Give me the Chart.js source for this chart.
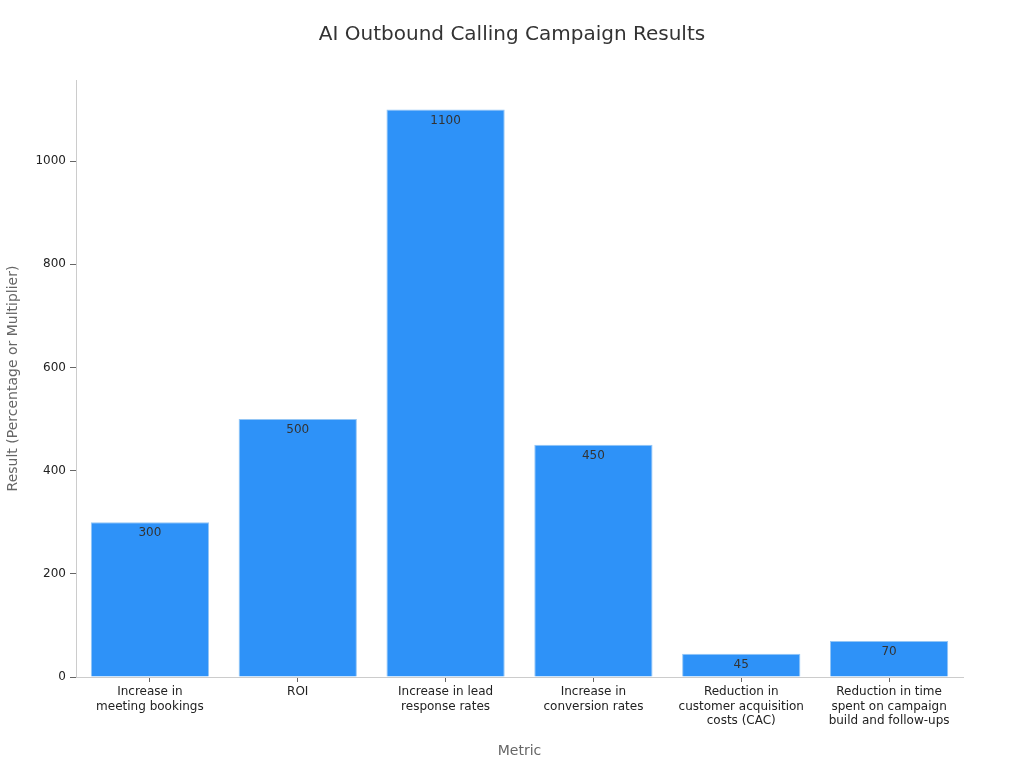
<!DOCTYPE html>
<html>
<head>
<meta charset="utf-8">
<script src="https://cdn.jsdelivr.net/npm/chart.js@4/dist/chart.umd.min.js"></script>
<style>
  html, body { margin: 0; padding: 0; background: #fff; }
  #wrap { width: 1024px; height: 768px; }
</style>
</head>
<body>
<div id="wrap"><canvas id="myChart" width="1024" height="768"></canvas></div>
<script>
let metrics = [
  ["Increase in", "meeting bookings"],
  ["ROI"],
  ["Increase in lead", "response rates"],
  ["Increase in", "conversion rates"],
  ["Reduction in", "customer acquisition", "costs (CAC)"],
  ["Reduction in time", "spent on campaign", "build and follow-ups"]
];
let results = [300, 500, 1100, 450, 45, 70];
let yTicks = [0, 200, 400, 600, 800, 1000];

Chart.defaults.font.family = "'DejaVu Sans', sans-serif";

// draws each value just inside the top of its bar
let barLabels = {
  id: 'barLabels',
  afterDatasetsDraw(chart) {
    let ctx = chart.ctx;
    let meta = chart.getDatasetMeta(0);
    ctx.save();
    ctx.font = "12px 'DejaVu Sans', sans-serif";
    ctx.fillStyle = '#333';
    ctx.textAlign = 'center';
    ctx.textBaseline = 'top';
    meta.data.forEach(function(bar, i) {
      ctx.fillText(String(results[i]), bar.x, bar.y + 5);
    });
    ctx.restore();
  }
};

new Chart("myChart", {
  type: "bar",
  data: {
    labels: metrics,
    datasets: [{
      data: results,
      backgroundColor: "#2e92f8",
      borderColor: "#94c6f5",
      borderWidth: 1,
      categoryPercentage: 1.0,
      barPercentage: 0.8
    }]
  },
  options: {
    responsive: false,
    animation: false,
    layout: { padding: { left: 0, right: 0, top: 10, bottom: 4 } },
    plugins: {
      legend: { display: false },
      tooltip: { enabled: false },
      title: {
        display: true,
        text: "AI Outbound Calling Campaign Results",
        color: "#333",
        font: { size: 20, weight: 'normal' },
        padding: { top: 13, bottom: 33 }
      }
    },
    scales: {
      x: {
        grid: { drawOnChartArea: false, drawTicks: true, tickLength: 5, color: '#ccc', tickColor: '#666', offset: false },
        border: { color: '#ccc' },
        ticks: { color: '#222', font: { size: 12 }, maxRotation: 0, padding: 3 },
        title: { display: true, text: "Metric", color: '#666', font: { size: 14 }, padding: { top: 12 } }
      },
      y: {
        min: 0,
        max: 1157,
        afterBuildTicks: function(axis) {
          axis.ticks = yTicks.map(function(v) { return { value: v }; });
        },
        afterFit: function(axis) { axis.width = 76; },
        grid: { drawOnChartArea: false, drawTicks: true, tickLength: 6, color: '#ccc', tickColor: '#666' },
        border: { color: '#ccc' },
        ticks: { color: '#222', font: { size: 12 }, padding: 4, callback: function(v) { return String(v); } },
        title: { display: true, text: "Result (Percentage or Multiplier)", color: '#666', font: { size: 14 }, padding: { top: 5, bottom: 3 } }
      },
      yRight: {
        position: 'right',
        display: true,
        afterFit: function(axis) { axis.width = 61; },
        grid: { display: false },
        border: { display: false },
        ticks: { display: false }
      }
    }
  },
  plugins: [barLabels]
});
</script>
</body>
</html>
